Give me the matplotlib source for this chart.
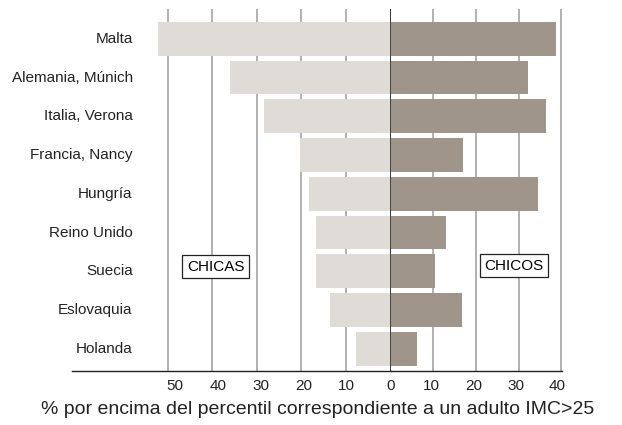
import matplotlib
matplotlib.use('Agg')
import matplotlib.pyplot as plt
from matplotlib.transforms import ScaledTranslation

countries = ['Malta', 'Alemania, Múnich', 'Italia, Verona', 'Francia, Nancy', 'Hungría',
             'Reino Unido', 'Suecia', 'Eslovaquia', 'Holanda']
chicas = [52.2, 36.0, 28.4, 20.3, 18.3, 16.7, 16.7, 13.6, 7.8]
chicos = [38.7, 32.2, 36.5, 16.9, 34.7, 12.9, 10.3, 16.7, 6.1]
ticks_left = [50, 40, 30, 20, 10, 0]
ticks_right = [10, 20, 30, 40]
xlabel = '% por encima del percentil correspondiente a un adulto IMC>25'

plt.rcParams['font.family'] = ['Liberation Sans', 'DejaVu Sans']

fig = plt.figure(figsize=(6.22, 4.25), dpi=100, facecolor='w')
ax1 = fig.add_axes([0.1158, 0.1278, 0.5124, 0.851])
ax2 = fig.add_axes([0.6286, 0.1278, 0.2744, 0.851], sharey=ax1)

n = len(countries)
y = [n - 1 - i for i in range(n)]

ax1.barh(y, chicas, height=0.87, color='#dfdcd8', zorder=2)
ax2.barh(y, chicos, height=0.87, color='#a0958a', zorder=2)

ax1.set_xlim(71.4, 0)
ax2.set_xlim(0, 40.15)
ax1.set_ylim(-0.565, n - 1 + 0.77)

ax1.set_xticks(ticks_left)
ax2.set_xticks(ticks_right)
for ax in (ax1, ax2):
    ax.grid(axis='x', color='#aaaaaa', lw=1.3, zorder=1)
    ax.set_axisbelow(True)
    for s in ('top', 'left', 'right'):
        ax.spines[s].set_visible(False)
    ax.spines['bottom'].set_color('#222222')
    ax.spines['bottom'].set_linewidth(1.0)
    ax.tick_params(axis='x', length=0, pad=6, labelsize=11, colors='#222222')
    ax.tick_params(axis='y', left=False, labelleft=False)
    ax.set_facecolor('none')

# tick labels in the original sit slightly off the gridlines
for ax, shifts in ((ax1, [7.5, 6, 4.5, 2, 0, 0]), (ax2, [-2, -2.5, -2.5, -4])):
    for lab, dx in zip(ax.get_xticklabels(), shifts):
        lab.set_transform(lab.get_transform() + ScaledTranslation(dx / 100, 0, fig.dpi_scale_trans))

ax1.axvline(0, color='#333333', lw=1.3, zorder=4)

for yy, name in zip(y, countries):
    ax1.text(57.8, yy, name, ha='right', va='center', fontsize=11, color='#222222')

box = dict(boxstyle='square,pad=0.3', fc='w', ec='#222222', lw=0.9)
ax1.text(39.2, 2.12, 'CHICAS', ha='center', va='center', fontsize=11, bbox=box, zorder=5)
ax2.text(28.9, 2.14, 'CHICOS', ha='center', va='center', fontsize=11, bbox=box, zorder=5)

fig.text(317.5 / 622, 1 - 409 / 425, xlabel, ha='center', va='center', fontsize=14, color='#222222')

plt.savefig('out.png', dpi=100)
